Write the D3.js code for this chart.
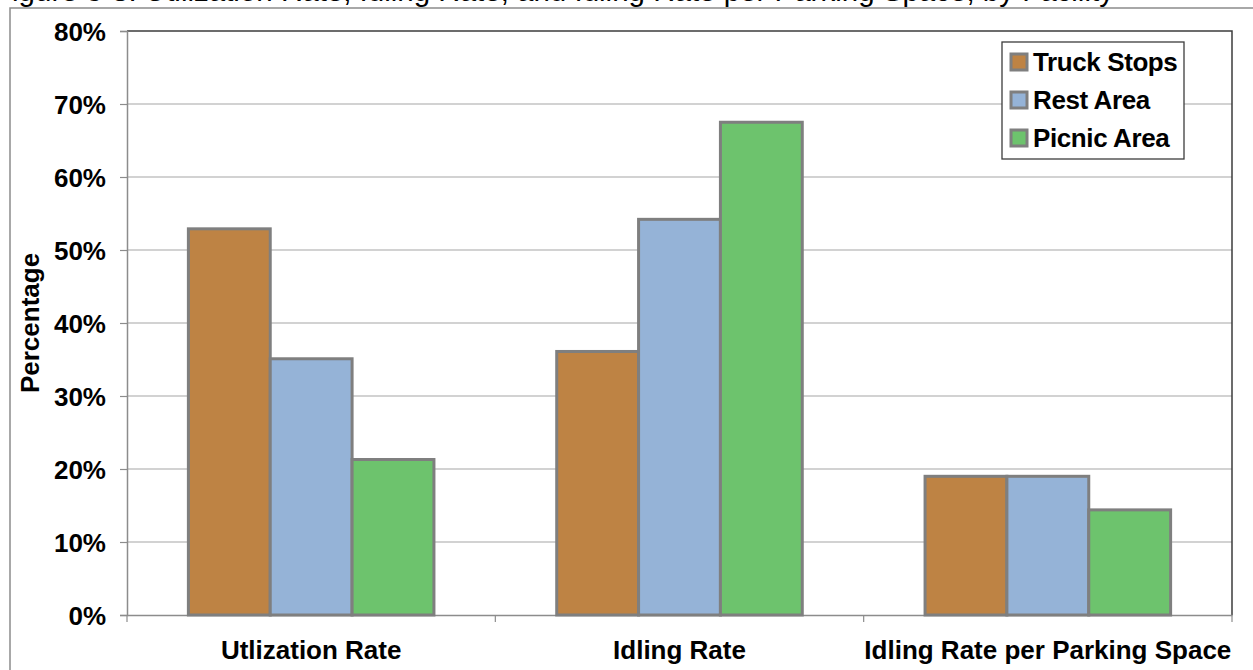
<!DOCTYPE html>
<html>
<head>
<meta charset="utf-8">
<script src="https://cdn.jsdelivr.net/npm/d3@7"></script>
<style>
  html, body { margin: 0; padding: 0; background: #fff; }
  svg { display: block; font-family: "Liberation Sans", Arial, sans-serif; }
</style>
</head>
<body>
<svg id="chart" width="1253" height="670"></svg>
<script>
// Chart data
const categories = ["Utlization Rate", "Idling Rate", "Idling Rate per Parking Space"];
const seriesNames = ["Truck Stops", "Rest Area", "Picnic Area"];
const truckStops = [0.529, 0.361, 0.190];
const restArea = [0.351, 0.542, 0.190];
const picnicArea = [0.213, 0.675, 0.144];
const yTicks = [0, 0.1, 0.2, 0.3, 0.4, 0.5, 0.6, 0.7, 0.8];
const colors = ["#BE8344", "#95B3D7", "#6DC36D"];
const titleText = "Figure 3-8: Utilization Rate, Idling Rate, and Idling Rate per Parking Space, by Facility";

const seriesValues = [truckStops, restArea, picnicArea];
const rows = categories.map((c, i) => ({
  category: c,
  values: seriesNames.map((s, j) => ({ series: s, value: seriesValues[j][i], color: colors[j] }))
}));

const svg = d3.select("#chart");
const W = 1253, H = 670;
const plot = { left: 127, right: 1232, top: 31, bottom: 615 };
const FS = 26;

// Caption line, running off the top edge
svg.append("text")
  .attr("x", -6).attr("y", 1)
  .attr("font-size", 29.5)
  .attr("fill", "#000")
  .text(titleText);

// Outer frame
svg.append("path")
  .attr("d", `M10,${H} L10,8 L${W},8`)
  .attr("fill", "none").attr("stroke", "#8c8c8c").attr("stroke-width", 1.5);

const x0 = d3.scaleBand().domain(categories).range([plot.left, plot.right]).padding(0);
const x1 = d3.scaleBand().domain(seriesNames).range([0, x0.bandwidth()])
  .paddingInner(0).paddingOuter(0.75);
const y = d3.scaleLinear().domain([0, 0.8]).range([plot.bottom, plot.top]);

// Horizontal gridlines
svg.append("g")
  .selectAll("line")
  .data(yTicks.filter(t => t > 0 && t < 0.8))
  .join("line")
  .attr("x1", plot.left).attr("x2", plot.right)
  .attr("y1", d => y(d)).attr("y2", d => y(d))
  .attr("stroke", "#a6a6a6").attr("stroke-width", 1.2);

// Plot frame: top and right
svg.append("path")
  .attr("d", `M${plot.left},${plot.top} L${plot.right},${plot.top} L${plot.right},${plot.bottom}`)
  .attr("fill", "none").attr("stroke", "#3c3c3c").attr("stroke-width", 1.5);

// Y axis
const yAxis = d3.axisLeft(y).tickValues(yTicks).tickFormat(d3.format(".0%")).tickSize(7).tickPadding(14);
const gy = svg.append("g").attr("transform", `translate(${plot.left},0)`).call(yAxis);
gy.select(".domain").attr("stroke", "#8c8c8c").attr("stroke-width", 1.5);
gy.selectAll(".tick line").attr("stroke", "#8c8c8c").attr("stroke-width", 1.2);
gy.selectAll(".tick text")
  .attr("font-family", "'Liberation Sans', Arial, sans-serif")
  .attr("font-size", FS).attr("font-weight", "bold").attr("fill", "#000")
  .attr("dy", "0.36em");

// X axis
const xAxis = d3.axisBottom(x0).tickSize(0).tickPadding(26);
const gx = svg.append("g").attr("transform", `translate(0,${plot.bottom})`).call(xAxis);
gx.select(".domain").attr("stroke", "#8c8c8c").attr("stroke-width", 1.5);
gx.selectAll(".tick text")
  .attr("font-family", "'Liberation Sans', Arial, sans-serif")
  .attr("font-size", FS).attr("font-weight", "bold").attr("fill", "#000");
// Category separators below the axis
gx.append("g").selectAll("line")
  .data(categories.concat(["end"]))
  .join("line")
  .attr("x1", (d, i) => i < categories.length ? x0(d) : plot.right)
  .attr("x2", (d, i) => i < categories.length ? x0(d) : plot.right)
  .attr("y1", 0).attr("y2", 7)
  .attr("stroke", "#8c8c8c").attr("stroke-width", 1.2);

// Bars
svg.append("g")
  .selectAll("g")
  .data(rows)
  .join("g")
  .attr("transform", d => `translate(${x0(d.category)},0)`)
  .selectAll("rect")
  .data(d => d.values)
  .join("rect")
  .attr("x", d => x1(d.series))
  .attr("width", x1.bandwidth())
  .attr("y", d => y(d.value))
  .attr("height", d => y(0) - y(d.value))
  .attr("fill", d => d.color)
  .attr("stroke", "#7f7f7f")
  .attr("stroke-width", 3);

// Y axis title
svg.append("text")
  .attr("transform", `translate(39,${(plot.top + plot.bottom) / 2}) rotate(-90)`)
  .attr("text-anchor", "middle")
  .attr("font-size", FS).attr("font-weight", "bold")
  .text("Percentage");

// Legend
const legend = svg.append("g").attr("transform", "translate(1002,42)");
legend.append("rect")
  .attr("width", 182).attr("height", 117)
  .attr("fill", "#fff").attr("stroke", "#3c3c3c").attr("stroke-width", 1.3);
const items = legend.selectAll("g.item")
  .data(seriesNames)
  .join("g").attr("class", "item")
  .attr("transform", (d, i) => `translate(0,${20 + i * 38})`);
items.append("rect")
  .attr("x", 9).attr("y", -8).attr("width", 16).attr("height", 16)
  .attr("fill", (d, i) => colors[i])
  .attr("stroke", "#7f7f7f").attr("stroke-width", 3);
items.append("text")
  .attr("x", 31).attr("y", 0).attr("dy", "0.36em")
  .attr("font-size", FS).attr("font-weight", "bold")
  .attr("letter-spacing", -0.4)
  .text(d => d);
</script>
</body>
</html>
